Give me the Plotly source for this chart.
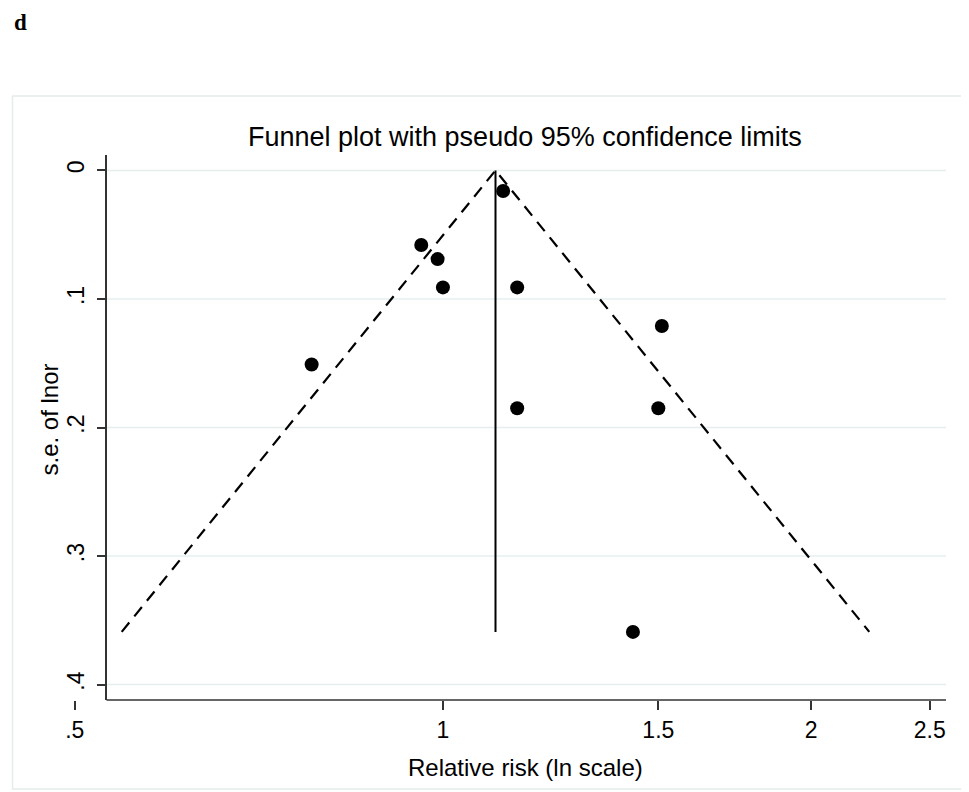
import numpy as np
import plotly.graph_objects as go

# ---- data ----
relative_risk = [1.120, 0.960, 0.990, 1.000, 1.150, 1.510, 1.150, 1.500, 1.430, 0.781]
se_lnor = [0.016, 0.058, 0.069, 0.091, 0.091, 0.121, 0.185, 0.185, 0.359, 0.151]
pooled_rr = 1.104
z95 = 1.96

x_tick_vals = [0.5, 1, 1.5, 2, 2.5]
x_tick_text = [".5", "1", "1.5", "2", "2.5"]
y_tick_vals = [0, 0.1, 0.2, 0.3, 0.4]
y_tick_text = ["0", ".1", ".2", ".3", ".4"]

# ---- layout geometry (page pixels; the html body adds an 8px margin) ----
OFF = 8
W, H = 969 - OFF, 792 - OFF
PL, PR, PT, PB = 63.5, 946.0, 155.0, 700.0
AXIS_X = 106.0


def px_x(p):
    return (p - PL) / (PR - PL)


def px_y(p):
    return (PB - p) / (PB - PT)


FONT = "Arial, Liberation Sans, sans-serif"
INK = "#000000"
AXC = "#333333"
GRID = "#E6EFF0"

se_max = max(se_lnor)
funnel_x = [pooled_rr * np.exp(-z95 * se_max), pooled_rr, pooled_rr * np.exp(z95 * se_max)]
funnel_y = [se_max, 0, se_max]

fig = go.Figure()

# funnel limits
fig.add_trace(go.Scatter(x=funnel_x, y=funnel_y, mode="lines",
                         line=dict(color=INK, width=2.2, dash="12px,8px"),
                         hoverinfo="skip", showlegend=False))
# pooled estimate line
fig.add_trace(go.Scatter(x=[pooled_rr, pooled_rr], y=[0, se_max], mode="lines",
                         line=dict(color=INK, width=2),
                         hoverinfo="skip", showlegend=False))
# studies
fig.add_trace(go.Scatter(x=relative_risk, y=se_lnor, mode="markers",
                         marker=dict(color=INK, size=14),
                         showlegend=False))

shapes = []
# horizontal gridlines
for v in y_tick_vals:
    shapes.append(dict(type="line", xref="paper", yref="y", x0=px_x(AXIS_X), x1=1,
                       y0=v, y1=v, line=dict(color=GRID, width=1.5), layer="below"))
# x axis line
shapes.append(dict(type="line", xref="paper", yref="paper", x0=px_x(AXIS_X), x1=1,
                   y0=0, y1=0, line=dict(color=AXC, width=1.5)))
# outer frame
shapes.append(dict(type="rect", xref="paper", yref="paper",
                   x0=px_x(12), x1=px_x(967), y0=px_y(789), y1=px_y(96),
                   line=dict(color="#E4ECEC", width=1.5), layer="below"))

annotations = [
    dict(text="Funnel plot with pseudo 95% confidence limits", xref="paper", yref="paper",
         x=px_x(525), y=px_y(137), showarrow=False, xanchor="center", yanchor="middle",
         font=dict(family=FONT, size=27, color=INK)),
    dict(text="Relative risk (ln scale)", xref="paper", yref="paper",
         x=px_x(525), y=px_y(767), showarrow=False, xanchor="center", yanchor="middle",
         font=dict(family=FONT, size=24, color=INK)),
    dict(text="s.e. of lnor", xref="paper", yref="paper", textangle=-90,
         x=px_x(48), y=px_y(420), showarrow=False, xanchor="center", yanchor="middle",
         font=dict(family=FONT, size=24, color=INK)),
    dict(text="<b>d</b>", xref="paper", yref="paper",
         x=px_x(11), y=px_y(22), showarrow=False, xanchor="left", yanchor="middle",
         font=dict(family="Liberation Serif, Times New Roman, serif", size=23, color=INK)),
]

fig.update_layout(
    width=W, height=H,
    margin=dict(l=PL - OFF, r=W - (PR - OFF), t=PT - OFF, b=H - (PB - OFF), pad=0),
    paper_bgcolor="white", plot_bgcolor="white",
    shapes=shapes, annotations=annotations,
    xaxis=dict(type="log", range=[np.log10(0.49), np.log10(2.578)],
               tickvals=x_tick_vals, ticktext=x_tick_text,
               ticks="outside", ticklen=9, tickwidth=1.5, tickcolor=AXC,
               showline=False, showgrid=False, zeroline=False,
               tickfont=dict(family=FONT, size=23, color=INK)),
    yaxis=dict(range=[0.412, -0.012], anchor="free", position=px_x(AXIS_X),
               tickvals=y_tick_vals, ticktext=y_tick_text, tickangle=-90,
               ticks="outside", ticklen=9, tickwidth=1.5, tickcolor=AXC,
               ticklabelstandoff=4,
               showline=True, linecolor=AXC, linewidth=1.5,
               showgrid=False, zeroline=False,
               tickfont=dict(family=FONT, size=23, color=INK)),
)

fig.write_html("out.html")
